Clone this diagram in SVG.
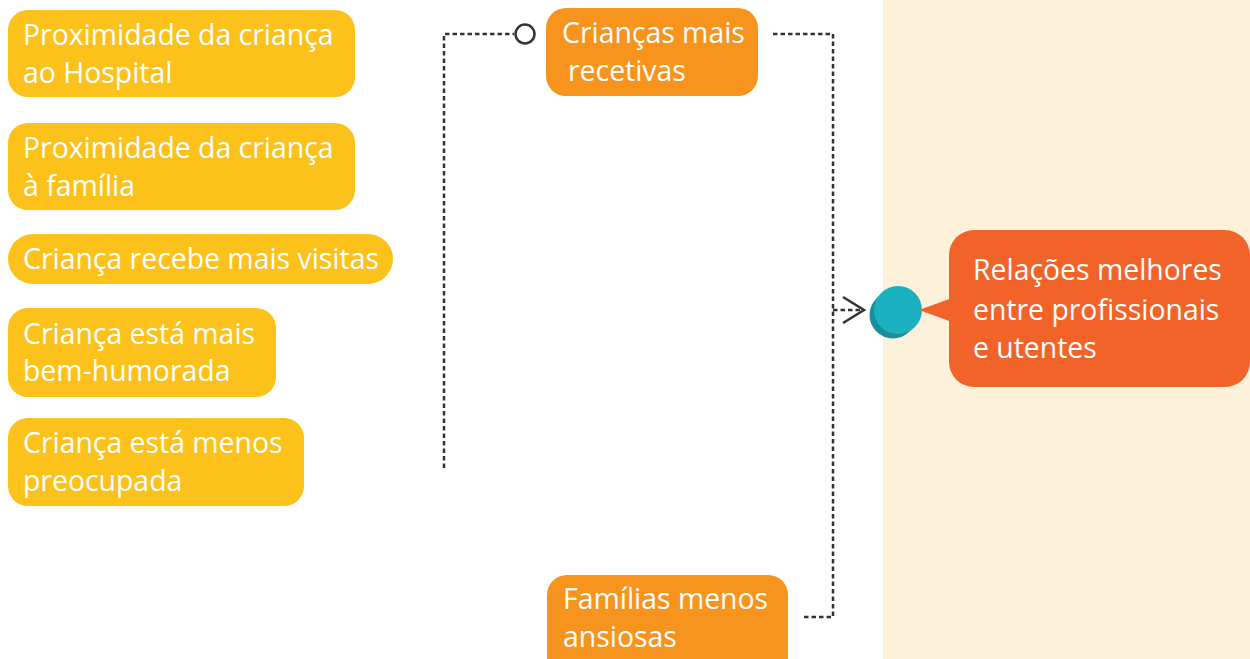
<svg xmlns="http://www.w3.org/2000/svg" width="1250" height="659" viewBox="0 0 1250 659">
<style>
.y{fill:#fcc21b}
.o{fill:#f7941e}
.r{fill:#f26329}
.t{font-family:"Open Sans","Noto Sans","DejaVu Sans",sans-serif;font-size:28.4px;fill:#fff}
.d{fill:none;stroke:#333;stroke-width:2.5;stroke-dasharray:4.5 3}
</style>
<rect x="0" y="0" width="1250" height="659" fill="#fff"/>
<rect x="883" y="0" width="367" height="659" fill="#fdf2d9"/>
<g id="connectors">
<path class="d" d="M444 468V34H514"/>
<circle cx="525" cy="34" r="9.5" fill="#fff" stroke="#333" stroke-width="2.5"/>
<path class="d" d="M773 34H833V617H801"/>
<path class="d" d="M833 310H861"/>
<path d="M843 297L864 310L843 323" fill="none" stroke="#333" stroke-width="2.5"/>
</g>
<g id="n1"><rect class="y" x="8" y="10" width="347" height="87" rx="20"/><text class="t" x="23" y="45">Proximidade da criança</text><text class="t" x="23" y="83">ao Hospital</text></g>
<g id="n2"><rect class="y" x="8" y="123" width="347" height="87" rx="20"/><text class="t" x="23" y="158">Proximidade da criança</text><text class="t" x="23" y="196">à família</text></g>
<g id="n3"><rect class="y" x="8" y="234" width="385" height="50" rx="25"/><text class="t" x="23" y="269">Criança recebe mais visitas</text></g>
<g id="n4"><rect class="y" x="8" y="308" width="268" height="89" rx="20"/><text class="t" x="23" y="344">Criança está mais</text><text class="t" x="23" y="381">bem-humorada</text></g>
<g id="n5"><rect class="y" x="8" y="418" width="296" height="88" rx="20"/><text class="t" x="23" y="453">Criança está menos</text><text class="t" x="23" y="491">preocupada</text></g>
<g id="n6"><rect class="o" x="546" y="8" width="212" height="88" rx="20"/><text class="t" x="562" y="43">Crianças mais</text><text class="t" x="568" y="81">recetivas</text></g>
<g id="n7"><rect class="o" x="547" y="575" width="241" height="110" rx="20"/><text class="t" x="563" y="609">Famílias menos</text><text class="t" x="563" y="647">ansiosas</text></g>
<g id="n8">
<circle cx="893" cy="315" r="23.5" fill="#1a8f9c"/>
<circle cx="898" cy="310" r="24" fill="#1bb1c0"/>
<path class="r" d="M919 310L952 298V322Z"/>
<rect class="r" x="949" y="230" width="301" height="157" rx="25"/>
<text class="t" x="973" y="280">Relações melhores</text><text class="t" x="973" y="320">entre profissionais</text><text class="t" x="973" y="358">e utentes</text>
</g>
</svg>
